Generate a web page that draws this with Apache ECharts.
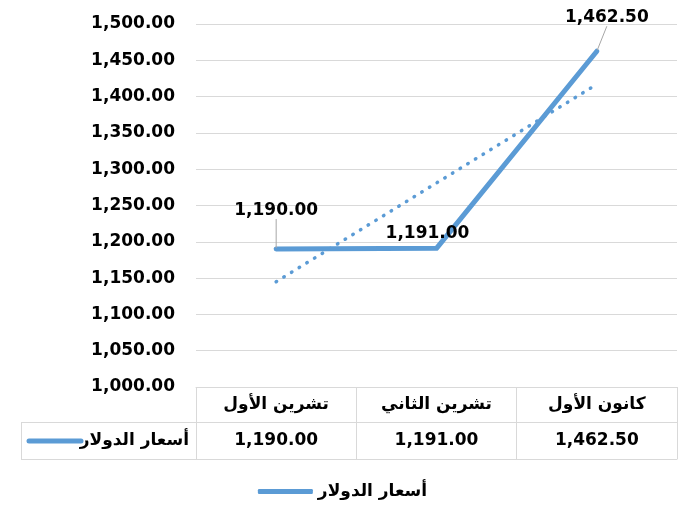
<!DOCTYPE html>
<html lang="ar">
<head>
    <meta charset="UTF-8">
    <title>أسعار الدولار</title>
    <script src="https://cdn.jsdelivr.net/npm/echarts@6/dist/echarts.min.js"></script>
    <style>html, body { margin: 0; padding: 0; background: #fff; }</style>
</head>
<body>
    <div id="main" style="width: 685px;height: 508px;"></div>
<script>
    // البيانات
    var months = ['تشرين الأول', 'تشرين الثاني', 'كانون الأول'];
    var seriesName = 'أسعار الدولار';
    var prices = [1190, 1191, 1462.5];
    var trendValues = [1145, 1281, 1417];   // خط الاتجاه (مقروء من الرسم)
    var yRange = [1000, 1500];
    var yStep = 50;

    var blue = '#5b9bd5';
    var gridColor = '#d9d9d9';
    var font = 'DejaVu Sans';
    // إزاحة تسميات البيانات
    var labelShift = [[0, -24], [-9, 0], [10, -19]];

    function fmt(v) {
        return Number(v).toLocaleString('en-US', { minimumFractionDigits: 2, maximumFractionDigits: 2 });
    }

    var boldText = { color: '#000', fontWeight: 'bold', fontSize: 17, fontFamily: font };

    var myChart = echarts.init(document.getElementById('main'));
    myChart.setOption({
        animation: false,
        grid: { left: 196, right: 8, top: 24, bottom: 121 },
        legend: {
            bottom: 3,
            left: 'center',
            data: [seriesName],
            icon: 'roundRect',
            itemWidth: 55,
            itemHeight: 5,
            itemGap: 10,
            textStyle: boldText
        },
        xAxis: [
            {   // صف العناوين
                type: 'category',
                data: months,
                position: 'bottom',
                axisLine: { show: true, lineStyle: { color: gridColor, width: 1 } },
                axisTick: { show: true, length: 72, lineStyle: { color: gridColor } },
                axisLabel: Object.assign({ interval: 0, margin: 9 }, boldText)
            },
            {   // صف القيم
                type: 'category',
                data: months,
                position: 'bottom',
                offset: 35,
                axisLine: { show: true, lineStyle: { color: gridColor, width: 1 } },
                axisTick: { show: false },
                axisLabel: Object.assign({
                    interval: 0, margin: 10,
                    formatter: function (v, i) { return fmt(prices[i]); }
                }, boldText)
            },
            {   // الحد السفلي للجدول
                type: 'category',
                data: months,
                position: 'bottom',
                offset: 72,
                axisLine: { show: true, lineStyle: { color: gridColor, width: 1 } },
                axisTick: { show: false },
                axisLabel: { show: false }
            }
        ],
        yAxis: {
            type: 'value',
            min: yRange[0],
            max: yRange[1],
            interval: yStep,
            axisLine: { show: false },
            axisTick: { show: false },
            splitLine: { lineStyle: { color: gridColor, width: 1 } },
            axisLabel: Object.assign({ margin: 21, formatter: fmt }, boldText)
        },
        graphic: [
            { type: 'line', shape: { x1: 21, y1: 422.5, x2: 196, y2: 422.5 }, style: { stroke: gridColor, lineWidth: 1 } },
            { type: 'line', shape: { x1: 21, y1: 459.5, x2: 196, y2: 459.5 }, style: { stroke: gridColor, lineWidth: 1 } },
            { type: 'line', shape: { x1: 21.5, y1: 422, x2: 21.5, y2: 460 }, style: { stroke: gridColor, lineWidth: 1 } },
            { type: 'line', shape: { x1: 29, y1: 441, x2: 81, y2: 441 }, style: { stroke: blue, lineWidth: 5, lineCap: 'round' } },
            { type: 'text', x: 189, y: 441, style: {
                text: seriesName, align: 'right', verticalAlign: 'middle',
                fill: '#000', font: 'bold 17px "DejaVu Sans"'
            } }
        ],
        series: [
            {
                name: seriesName,
                type: 'line',
                data: prices.map(function (v, i) {
                    return { value: v, labelLine: { show: i !== 1 } };
                }),
                symbol: 'circle',
                symbolSize: 2,
                itemStyle: { color: blue },
                lineStyle: { color: blue, width: 5, cap: 'round', join: 'round' },
                label: Object.assign({
                    show: true,
                    position: 'top',
                    distance: 5,
                    formatter: function (p) { return fmt(p.value); }
                }, boldText),
                labelLine: { show: true, lineStyle: { color: '#a6a6a6', width: 1 } },
                labelLayout: function (params) {
                    var s = labelShift[params.dataIndex];
                    return { dx: s[0], dy: s[1] };
                },
                z: 3
            },
            {
                name: 'trend',
                type: 'line',
                data: trendValues,
                symbol: 'none',
                silent: true,
                lineStyle: { color: blue, width: 3.5, type: [0.5, 8.5], cap: 'round' },
                z: 2
            }
        ]
    });
</script>
</body>
</html>
